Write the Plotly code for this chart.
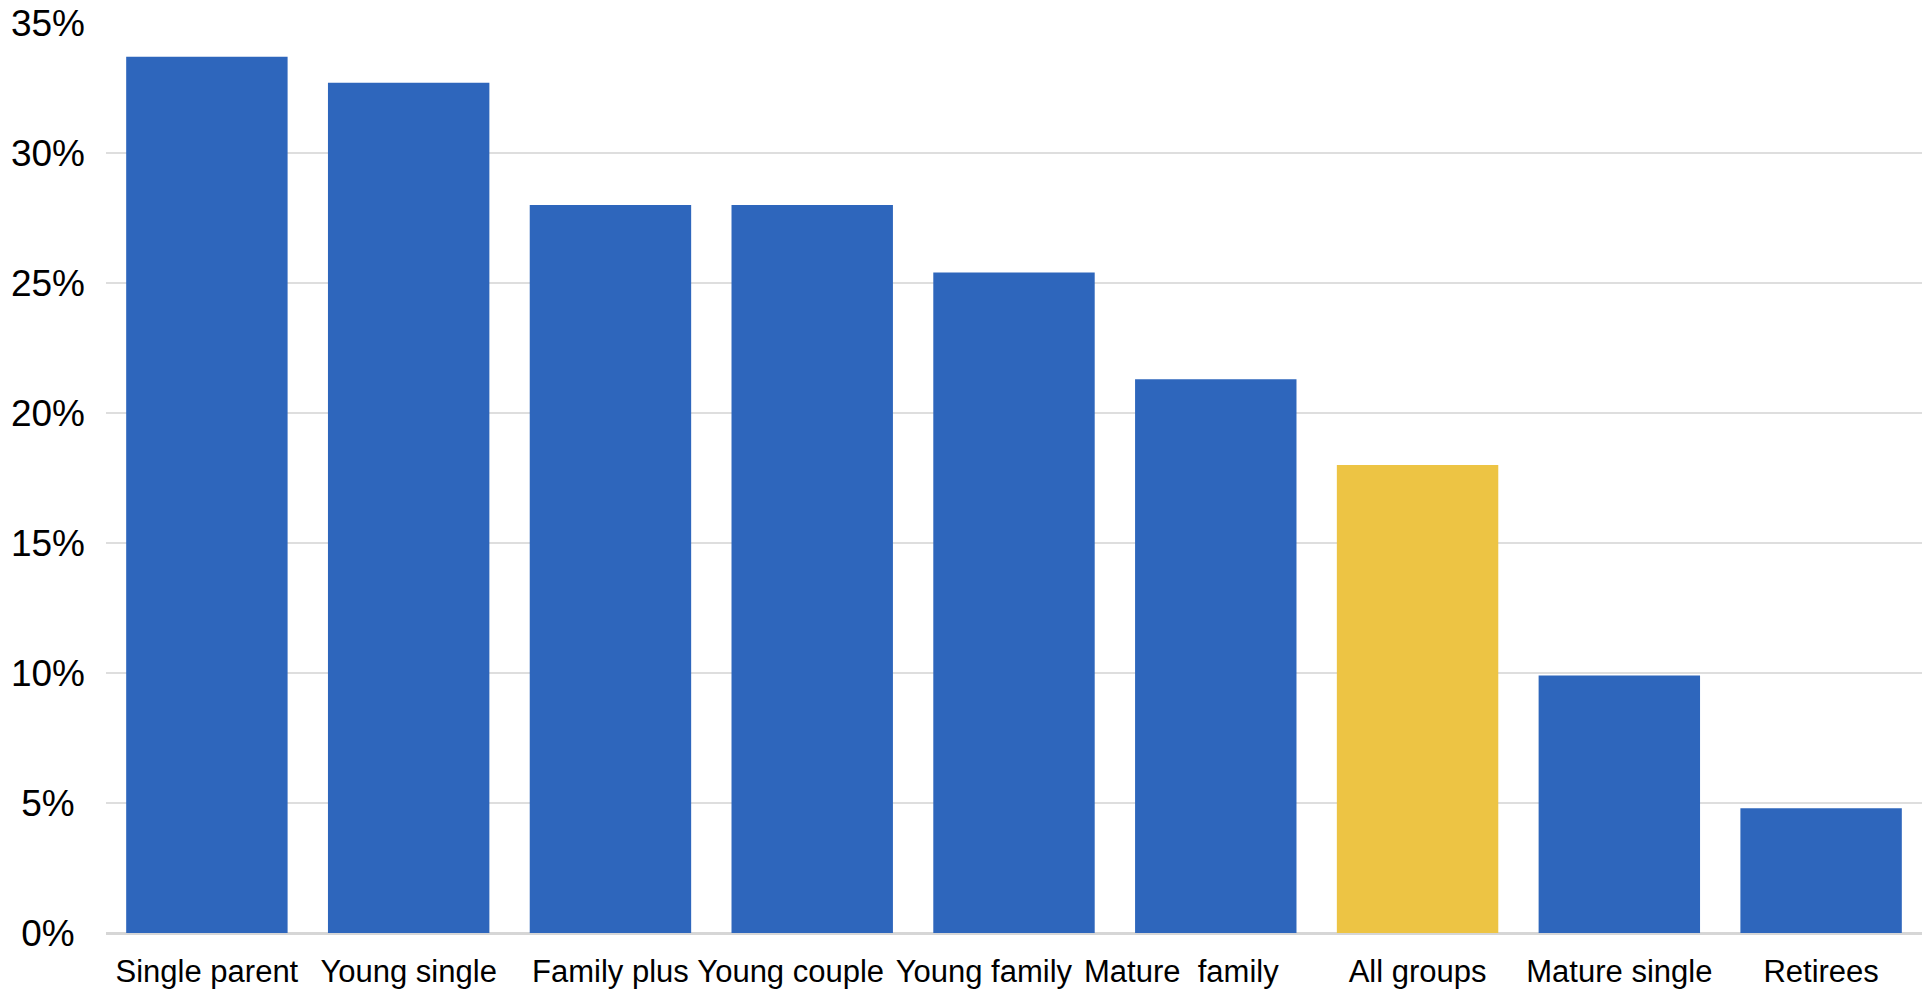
import plotly.graph_objects as go

# Share of each household group (percent)
categories = [
    "Single parent", "Young single", "Family plus", "Young couple",
    "Young family", "Mature  family", "All groups", "Mature single", "Retirees",
]
values = [33.7, 32.7, 28.0, 28.0, 25.4, 21.3, 18.0, 9.9, 4.8]
highlight = "All groups"

# Axis labels as printed (some carry trailing padding from the source sheet)
NBSP = "\u00a0"
x_tick_labels = [
    "Single parent", "Young single", "Family plus", "Young couple" + NBSP * 5,
    "Young family" + NBSP * 7, "Mature" + NBSP + " family" + NBSP * 8,
    "All groups", "Mature single", "Retirees",
]

# Single-digit labels get one trailing space so the column reads centred
y_ticks = [0, 5, 10, 15, 20, 25, 30, 35]
y_tick_labels = ["0%" + NBSP, "5%" + NBSP, "10%", "15%", "20%", "25%", "30%", "35%"]

BLUE = "#2E66BC"
GOLD = "#EDC444"
bar_colors = [GOLD if c == highlight else BLUE for c in categories]

fig = go.Figure(
    go.Bar(
        x=categories,
        y=values,
        marker=dict(color=bar_colors, line=dict(width=0)),
        hoverinfo="x+y",
    )
)

fig.update_layout(
    width=1925,
    height=990,
    margin=dict(l=106, r=3, t=23, b=57),
    paper_bgcolor="white",
    plot_bgcolor="white",
    bargap=0.2,
    showlegend=False,
    font=dict(family="Liberation Sans, Arial, sans-serif", color="black"),
)

fig.update_xaxes(
    tickmode="array",
    tickvals=categories,
    ticktext=x_tick_labels,
    tickangle=0,
    automargin=False,
    showgrid=False,
    showline=False,
    ticks="",
    tickfont=dict(size=31, color="black"),
    ticklabelstandoff=17,
)

fig.update_yaxes(
    range=[0, 35],
    tickvals=y_ticks,
    ticktext=y_tick_labels,
    automargin=False,
    showgrid=True,
    gridcolor="#dedede",
    gridwidth=2,
    zeroline=True,
    zerolinecolor="#d6d6d6",
    zerolinewidth=3,
    showline=False,
    ticks="",
    tickfont=dict(size=37, color="black"),
    ticklabelstandoff=20,
)

fig.write_html("out.html")
